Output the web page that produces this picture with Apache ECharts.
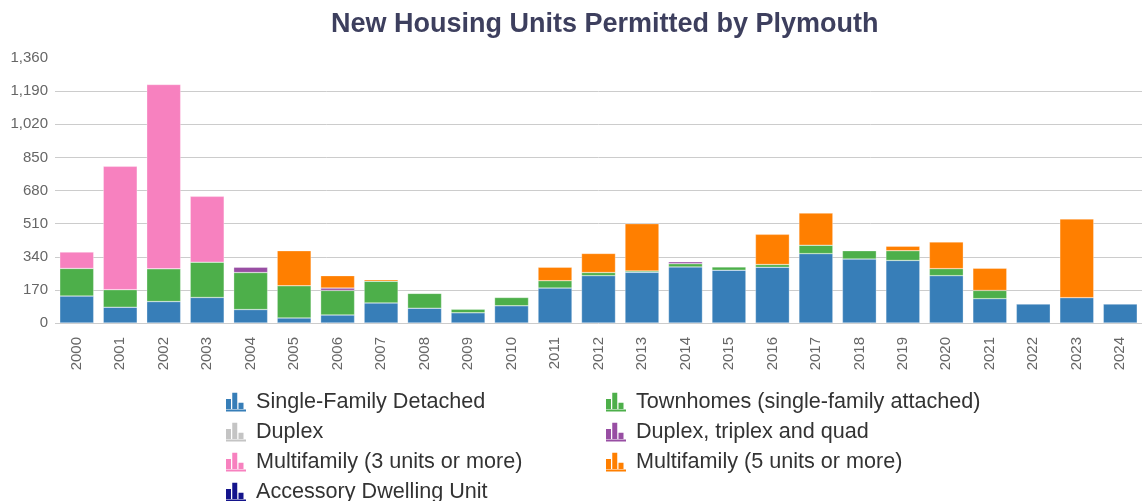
<!DOCTYPE html>
<html>
<head>
<meta charset="utf-8">
<script src="https://cdn.jsdelivr.net/npm/echarts@6/dist/echarts.min.js"></script>
<style>
html,body{margin:0;padding:0;background:#fff;}
#chart{width:1142px;height:501px;}
</style>
</head>
<body>
<div id="chart"></div>
<script>
var years = ['2000','2001','2002','2003','2004','2005','2006','2007','2008','2009','2010','2011','2012','2013','2014','2015','2016','2017','2018','2019','2020','2021','2022','2023','2024'];
var singleFamilyDetached = [138, 81, 110, 131, 69, 26, 41, 103, 76, 52, 88, 179, 243, 260, 288, 271, 286, 356, 328, 321, 243, 125, 97, 130, 97];
var townhomes            = [142, 90, 168, 181, 190, 165, 126, 111, 76, 19, 43, 38, 16, 7, 16, 17, 14, 43, 43, 50, 36, 42, null, null, null];
var duplex               = [null, null, null, null, null, null, null, null, null, null, null, null, null, null, null, null, null, null, null, null, null, null, null, null, null];
var duplexTriplexQuad    = [null, null, null, null, 27, null, 12, null, null, null, null, null, null, null, 10, null, null, null, null, null, null, null, null, null, null];
var multifamily3         = [84, 633, 946, 338, null, null, null, null, null, null, null, null, null, null, null, null, null, null, null, null, null, null, null, null, null];
var multifamily5         = [null, null, null, null, null, 180, 64, 8, null, null, null, 69, 98, 243, null, null, 155, 165, null, 23, 137, 114, null, 404, null];
var accessoryDwelling    = [null, null, null, null, null, null, null, null, null, null, null, null, null, null, null, null, null, null, null, null, null, null, null, null, null];
var yTicks = [0, 170, 340, 510, 680, 850, 1020, 1190, 1360];

var seriesDefs = [
  {name: 'Single-Family Detached', data: singleFamilyDetached, color: '#377eb8'},
  {name: 'Townhomes (single-family attached)', data: townhomes, color: '#4daf4a'},
  {name: 'Duplex', data: duplex, color: '#c4c4c4'},
  {name: 'Duplex, triplex and quad', data: duplexTriplexQuad, color: '#984ea3'},
  {name: 'Multifamily (3 units or more)', data: multifamily3, color: '#f781bf'},
  {name: 'Multifamily (5 units or more)', data: multifamily5, color: '#ff7f00'},
  {name: 'Accessory Dwelling Unit', data: accessoryDwelling, color: '#14148c'}
];

var icon = 'path://M0,5H4V13H0Z M5,0H9V13H5Z M10,8H14V13H10Z M0,13.5H16V15H0Z';
var FONT = 'Liberation Sans, Arial, sans-serif';
var legendText = {fontSize: 21.6, color: '#333', fontFamily: FONT, lineHeight: 20, padding: [0, 0, 0, 5]};

var chart = echarts.init(document.getElementById('chart'), null, {renderer: 'canvas'});
var splitColors = yTicks.map(function (v, i) { return i === yTicks.length - 1 ? 'rgba(0,0,0,0)' : '#cccccc'; });

chart.setOption({
  animation: false,
  backgroundColor: '#ffffff',
  textStyle: {fontFamily: FONT},
  title: {
    text: 'New Housing Units Permitted by Plymouth',
    left: 326,
    top: 6,
    textStyle: {fontSize: 27, fontWeight: 'bold', color: '#3d3f5e', fontFamily: FONT}
  },
  legend: [
    {
      orient: 'vertical', left: 226, top: 391, height: 140, padding: 0, itemGap: 8, itemWidth: 20, itemHeight: 19,
      icon: icon, textStyle: legendText, selectedMode: false, itemStyle: {borderWidth: 0},
      data: ['Single-Family Detached', 'Duplex', 'Multifamily (3 units or more)', 'Accessory Dwelling Unit']
    },
    {
      orient: 'vertical', left: 606, top: 391, height: 140, padding: 0, itemGap: 8, itemWidth: 20, itemHeight: 19,
      icon: icon, textStyle: legendText, selectedMode: false, itemStyle: {borderWidth: 0},
      data: ['Townhomes (single-family attached)', 'Duplex, triplex and quad', 'Multifamily (5 units or more)']
    }
  ],
  grid: {left: 55, top: 58, width: 1097, height: 265, containLabel: false},
  xAxis: {
    type: 'category',
    data: years,
    axisLine: {show: false},
    axisTick: {show: false},
    axisLabel: {rotate: 90, fontSize: 15, color: '#666', margin: 14, interval: 0}
  },
  yAxis: {
    type: 'value',
    min: yTicks[0],
    max: yTicks[yTicks.length - 1],
    interval: yTicks[1] - yTicks[0],
    axisLine: {show: false},
    axisTick: {show: false},
    axisLabel: {fontSize: 15, color: '#666', margin: 7},
    splitLine: {lineStyle: {color: splitColors, width: 1}}
  },
  series: seriesDefs.map(function (s) {
    return {
      name: s.name,
      type: 'bar',
      stack: 'total',
      data: s.data,
      barCategoryGap: '22%',
      itemStyle: {color: s.color, borderColor: 'rgba(255,255,255,0.6)', borderWidth: 0.5}
    };
  })
});
</script>
</body>
</html>
